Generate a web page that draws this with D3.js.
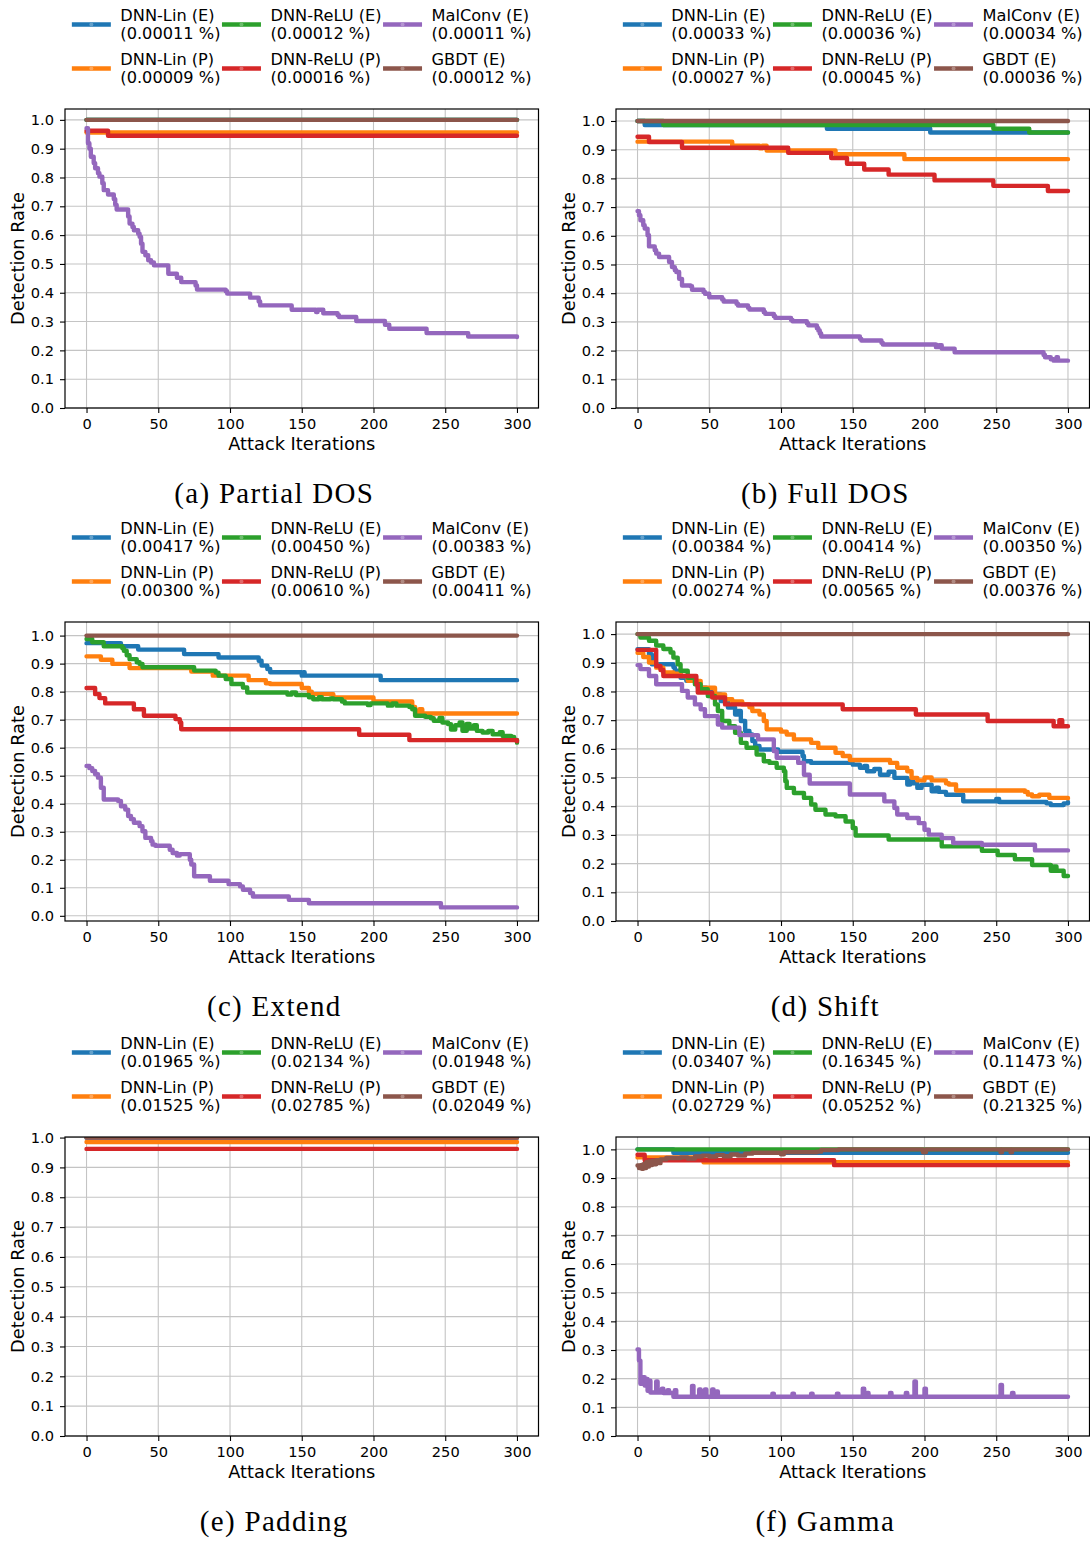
<!DOCTYPE html>
<html><head><meta charset="utf-8">
<script src="https://cdn.jsdelivr.net/npm/d3@7"></script>
<style>body{margin:0;background:#fff}</style>
</head><body>
<svg id="chart" width="1090" height="1543" xmlns="http://www.w3.org/2000/svg"></svg>
<script>
// ---------------- DATA ----------------
const seriesNames = ["DNN-Lin (E)", "DNN-Lin (P)", "DNN-ReLU (E)", "DNN-ReLU (P)", "MalConv (E)", "GBDT (E)"];
const xTicks = [0, 50, 100, 150, 200, 250, 300];
const yTicks = [0, 0.1, 0.2, 0.3, 0.4, 0.5, 0.6, 0.7, 0.8, 0.9, 1.0];
const captions = ["(a) Partial DOS", "(b) Full DOS", "(c) Extend", "(d) Shift", "(e) Padding", "(f) Gamma"];

const pctPartialDOS = ["0.00011", "0.00009", "0.00012", "0.00016", "0.00011", "0.00012"];
const pctFullDOS    = ["0.00033", "0.00027", "0.00036", "0.00045", "0.00034", "0.00036"];
const pctExtend     = ["0.00417", "0.00300", "0.00450", "0.00610", "0.00383", "0.00411"];
const pctShift      = ["0.00384", "0.00274", "0.00414", "0.00565", "0.00350", "0.00376"];
const pctPadding    = ["0.01965", "0.01525", "0.02134", "0.02785", "0.01948", "0.02049"];
const pctGamma      = ["0.03407", "0.02729", "0.16345", "0.05252", "0.11473", "0.21325"];

// Step breakpoints [iteration, detection rate]
// (a) Partial DOS
const partialDOS_linE  = [[0,1.0],[300,1.0]];
const partialDOS_linP  = [[0,0.956],[300,0.956]];
const partialDOS_reluE = [[0,1.0],[300,1.0]];
const partialDOS_reluP = [[0,0.962],[15,0.945],[300,0.945]];
const partialDOS_malconv = [[0,0.971],[1,0.919],[2,0.90],[3,0.872],[5,0.85],[6,0.832],[8,0.815],[9,0.803],[11,0.78],[12,0.756],[15,0.741],[19,0.725],[20,0.705],[21,0.689],[29,0.665],[30,0.640],[32,0.628],[33,0.617],[36,0.605],[37,0.594],[38,0.57],[39,0.542],[41,0.53],[43,0.513],[45,0.505],[47,0.495],[57,0.466],[63,0.452],[66,0.437],[76,0.425],[77,0.411],[97,0.405],[98,0.397],[114,0.383],[120,0.370],[121,0.356],[143,0.341],[160,0.333],[161,0.341],[165,0.329],[175,0.322],[176,0.316],[188,0.302],[208,0.289],[211,0.275],[237,0.260],[266,0.248],[300,0.246]];
const partialDOS_gbdt = [[0,1.0],[300,1.0]];

// (b) Full DOS
const fullDOS_linE  = [[0,1.0],[5,0.986],[132,0.973],[204,0.960],[300,0.960]];
const fullDOS_linP  = [[0,0.928],[66,0.914],[85,0.905],[87,0.914],[90,0.897],[138,0.884],[186,0.867],[300,0.867]];
const fullDOS_reluE = [[0,1.0],[18,0.986],[248,0.973],[273,0.960],[300,0.960]];
const fullDOS_reluP = [[0,0.945],[8,0.927],[31,0.907],[105,0.889],[135,0.871],[146,0.851],[158,0.831],[175,0.813],[207,0.793],[248,0.774],[286,0.756],[300,0.756]];
const fullDOS_malconv = [[0,0.686],[1,0.672],[2,0.654],[4,0.637],[5,0.625],[7,0.602],[8,0.563],[12,0.55],[13,0.538],[15,0.526],[22,0.509],[24,0.491],[26,0.48],[27,0.474],[29,0.45],[31,0.427],[37,0.424],[38,0.412],[46,0.404],[47,0.398],[50,0.386],[59,0.378],[60,0.371],[69,0.363],[70,0.357],[77,0.349],[78,0.343],[88,0.334],[89,0.328],[95,0.32],[96,0.314],[107,0.307],[108,0.302],[118,0.295],[119,0.288],[125,0.278],[126,0.27],[127,0.26],[128,0.249],[155,0.241],[156,0.235],[170,0.227],[171,0.221],[208,0.212],[210,0.219],[212,0.207],[221,0.194],[283,0.185],[284,0.177],[288,0.170],[290,0.165],[292,0.177],[293,0.165],[300,0.165]];
const fullDOS_gbdt = [[0,1.0],[300,1.0]];

// (c) Extend
const extend_linE = [[0,0.973],[24,0.962],[36,0.950],[68,0.934],[92,0.922],[120,0.91],[122,0.893],[126,0.881],[128,0.869],[150,0.857],[151,0.869],[152,0.857],[205,0.841],[300,0.841]];
const extend_linP = [[0,0.926],[10,0.914],[18,0.899],[30,0.884],[73,0.872],[88,0.857],[113,0.841],[125,0.83],[128,0.827],[150,0.813],[155,0.80],[157,0.791],[172,0.779],[200,0.765],[227,0.745],[229,0.722],[232,0.737],[234,0.722],[300,0.722]];
const extend_reluE = [[0,0.988],[4,0.976],[12,0.962],[25,0.955],[26,0.946],[28,0.93],[30,0.916],[35,0.905],[37,0.899],[39,0.887],[75,0.875],[90,0.868],[92,0.857],[97,0.845],[101,0.827],[109,0.815],[112,0.797],[140,0.79],[143,0.797],[146,0.788],[155,0.78],[158,0.773],[162,0.78],[164,0.773],[170,0.776],[172,0.773],[178,0.765],[180,0.758],[196,0.752],[198,0.758],[210,0.75],[213,0.758],[216,0.75],[225,0.745],[227,0.737],[229,0.714],[236,0.71],[240,0.705],[242,0.696],[246,0.706],[248,0.69],[252,0.684],[254,0.665],[257,0.68],[260,0.69],[262,0.66],[265,0.685],[267,0.668],[270,0.68],[272,0.66],[276,0.654],[280,0.66],[283,0.648],[288,0.655],[290,0.642],[296,0.638],[298,0.628],[300,0.618]];
const extend_reluP = [[0,0.813],[6,0.791],[9,0.777],[13,0.758],[33,0.737],[40,0.714],[62,0.702],[65,0.69],[66,0.666],[190,0.646],[225,0.627],[300,0.623]];
const extend_malconv = [[0,0.535],[2,0.527],[4,0.517],[6,0.505],[8,0.493],[10,0.457],[12,0.415],[22,0.41],[24,0.391],[27,0.379],[29,0.356],[31,0.345],[33,0.332],[37,0.320],[39,0.302],[41,0.278],[45,0.266],[46,0.254],[48,0.25],[58,0.236],[60,0.224],[63,0.215],[65,0.22],[72,0.200],[73,0.183],[75,0.141],[86,0.125],[99,0.113],[107,0.105],[109,0.093],[114,0.081],[116,0.069],[141,0.057],[155,0.045],[247,0.030],[300,0.030]];
const extend_gbdt = [[0,1.0],[300,1.0]];

// (d) Shift
const shift_linE = [[0,0.947],[8,0.930],[10,0.895],[25,0.885],[26,0.872],[30,0.848],[34,0.837],[42,0.813],[48,0.80],[52,0.790],[58,0.767],[63,0.744],[68,0.720],[70,0.732],[72,0.697],[75,0.662],[78,0.65],[80,0.627],[82,0.610],[85,0.598],[98,0.590],[115,0.575],[116,0.557],[121,0.551],[150,0.545],[155,0.534],[158,0.54],[160,0.522],[165,0.53],[169,0.51],[175,0.52],[179,0.499],[188,0.476],[190,0.49],[192,0.48],[195,0.464],[198,0.475],[205,0.452],[208,0.465],[210,0.45],[215,0.44],[227,0.417],[250,0.425],[252,0.415],[285,0.41],[288,0.404],[297,0.41],[300,0.415]];
const shift_linP = [[0,0.935],[4,0.92],[8,0.901],[13,0.883],[18,0.866],[25,0.862],[30,0.854],[35,0.837],[44,0.813],[54,0.790],[61,0.773],[66,0.765],[73,0.755],[78,0.745],[80,0.732],[85,0.72],[88,0.697],[90,0.668],[100,0.660],[104,0.650],[109,0.633],[121,0.621],[126,0.604],[138,0.586],[143,0.575],[148,0.561],[176,0.551],[181,0.534],[188,0.522],[191,0.499],[195,0.49],[200,0.5],[205,0.49],[215,0.48],[217,0.476],[222,0.455],[270,0.45],[272,0.441],[275,0.435],[280,0.44],[287,0.429],[300,0.428]];
const shift_reluE = [[0,1.0],[2,0.988],[8,0.977],[13,0.96],[18,0.948],[23,0.936],[25,0.918],[28,0.895],[30,0.872],[35,0.848],[40,0.825],[44,0.808],[49,0.784],[54,0.755],[56,0.732],[59,0.697],[64,0.679],[68,0.656],[72,0.621],[76,0.604],[83,0.580],[88,0.557],[92,0.551],[97,0.534],[102,0.522],[103,0.487],[104,0.464],[109,0.446],[116,0.429],[121,0.406],[124,0.388],[131,0.371],[138,0.365],[145,0.347],[150,0.324],[152,0.298],[175,0.284],[212,0.26],[240,0.245],[251,0.23],[263,0.215],[275,0.195],[288,0.175],[290,0.19],[292,0.175],[297,0.157],[300,0.157]];
const shift_reluP = [[0,0.945],[13,0.889],[16,0.875],[18,0.854],[41,0.825],[42,0.796],[52,0.779],[61,0.755],[143,0.738],[194,0.720],[244,0.697],[290,0.679],[294,0.700],[296,0.679],[300,0.679]];
const shift_malconv = [[0,0.892],[2,0.878],[8,0.854],[13,0.825],[31,0.802],[35,0.779],[40,0.755],[44,0.738],[47,0.714],[56,0.685],[59,0.674],[71,0.648],[84,0.633],[95,0.592],[97,0.569],[112,0.551],[116,0.510],[120,0.479],[148,0.441],[172,0.417],[179,0.394],[181,0.371],[188,0.359],[196,0.341],[200,0.318],[203,0.301],[212,0.289],[220,0.272],[240,0.266],[277,0.246],[300,0.246]];
const shift_gbdt = [[0,1.0],[300,1.0]];

// (e) Padding
const padding_linE  = [[0,1.0],[300,1.0]];
const padding_linP  = [[0,0.985],[300,0.985]];
const padding_reluE = [[0,1.0],[300,1.0]];
const padding_reluP = [[0,0.962],[300,0.962]];
const padding_malconv = [[0,1.0],[300,1.0]];
const padding_gbdt  = [[0,1.0],[300,1.0]];

// (f) Gamma
const gamma_linE  = [[0,1.0],[25,0.988],[300,0.988]];
const gamma_linP  = [[0,0.972],[46,0.955],[300,0.955]];
const gamma_reluE = [[0,1.0],[300,1.0]];
const gamma_reluP = [[0,0.981],[5,0.962],[137,0.945],[300,0.945]];
const gamma_malconv = [[0,0.302],[1,0.263],[2,0.182],[3,0.205],[5,0.176],[6,0.199],[7,0.158],[8,0.193],[9,0.152],[13,0.19],[14,0.152],[17,0.165],[18,0.15],[21,0.16],[22,0.15],[25,0.137],[26,0.16],[27,0.137],[38,0.175],[39,0.137],[43,0.162],[44,0.137],[47,0.162],[48,0.137],[52,0.162],[53,0.137],[55,0.155],[56,0.137],[94,0.148],[95,0.137],[108,0.148],[109,0.137],[121,0.148],[122,0.137],[139,0.148],[140,0.137],[157,0.165],[158,0.137],[160,0.15],[161,0.137],[176,0.15],[177,0.137],[187,0.15],[188,0.137],[193,0.19],[194,0.137],[200,0.165],[201,0.137],[253,0.178],[254,0.137],[261,0.15],[262,0.137],[300,0.137]];
const gamma_gbdt = [[0,0.944],[1,0.935],[2,0.945],[3,0.932],[4,0.948],[5,0.935],[6,0.955],[7,0.94],[8,0.958],[9,0.945],[10,0.96],[12,0.948],[13,0.962],[15,0.952],[16,0.965],[20,0.97],[30,0.972],[35,0.968],[40,0.975],[45,0.978],[50,0.975],[55,0.98],[60,0.976],[65,0.982],[70,0.978],[75,0.985],[80,0.988],[100,0.983],[102,0.99],[125,0.992],[128,0.998],[140,1.0],[199,0.99],[201,1.0],[253,0.99],[254,1.0],[260,0.99],[261,1.0],[300,1.0]];

const panels = [
  {caption: captions[0], pct: pctPartialDOS, series: [partialDOS_linE, partialDOS_linP, partialDOS_reluE, partialDOS_reluP, partialDOS_malconv, partialDOS_gbdt]},
  {caption: captions[1], pct: pctFullDOS, series: [fullDOS_linE, fullDOS_linP, fullDOS_reluE, fullDOS_reluP, fullDOS_malconv, fullDOS_gbdt]},
  {caption: captions[2], pct: pctExtend, series: [extend_linE, extend_linP, extend_reluE, extend_reluP, extend_malconv, extend_gbdt]},
  {caption: captions[3], pct: pctShift, series: [shift_linE, shift_linP, shift_reluE, shift_reluP, shift_malconv, shift_gbdt]},
  {caption: captions[4], pct: pctPadding, series: [padding_linE, padding_linP, padding_reluE, padding_reluP, padding_malconv, padding_gbdt]},
  {caption: captions[5], pct: pctGamma, series: [gamma_linE, gamma_linP, gamma_reluE, gamma_reluP, gamma_malconv, gamma_gbdt]}
];

// ---------------- STYLE / LAYOUT ----------------
const colors = ["#1f77b4", "#ff7f0e", "#2ca02c", "#d62728", "#9467bd", "#8c564b"];
const colLeft = [65, 616];
const rowTop = [109, 622, 1137];
const axW = 473.5, axH = 299;
const sansFont = "DejaVu Sans, sans-serif";

const svg = d3.select("#chart");
svg.append("rect").attr("width", 1090).attr("height", 1543).attr("fill", "#fff");

panels.forEach((p, i) => {
  const left = colLeft[i % 2], top = rowTop[Math.floor(i / 2)];
  const right = left + axW, bottom = top + axH;
  const cx = (left + right) / 2;

  const allY = p.series.flat().map(d => d[1]);
  const ymin = d3.min(allY), ymax = d3.max(allY);
  const lo = Math.min(0, ymin - 0.05 * (ymax - ymin));
  const hi = ymax + 0.05 * (ymax - ymin);

  const x = d3.scaleLinear().domain([-15, 315]).range([left, right]);
  const y = d3.scaleLinear().domain([lo, hi]).range([bottom, top]);

  const g = svg.append("g");
  const clipId = "clip" + i;
  g.append("clipPath").attr("id", clipId).append("rect")
    .attr("x", left).attr("y", top).attr("width", axW).attr("height", axH);

  // grid
  g.append("g").selectAll("line").data(xTicks).join("line")
    .attr("x1", d => x(d)).attr("x2", d => x(d)).attr("y1", top).attr("y2", bottom)
    .attr("stroke", "#c4c4c4").attr("stroke-width", 1.1);
  g.append("g").selectAll("line").data(yTicks.filter(t => t >= lo && t <= hi)).join("line")
    .attr("x1", left).attr("x2", right).attr("y1", d => y(d)).attr("y2", d => y(d))
    .attr("stroke", "#c4c4c4").attr("stroke-width", 1.1);

  // series lines
  const line = d3.line().x(d => x(d[0])).y(d => y(d[1])).curve(d3.curveStepAfter);
  const lg = g.append("g").attr("clip-path", `url(#${clipId})`);
  p.series.forEach((s, k) => {
    lg.append("path").datum(s).attr("d", line)
      .attr("fill", "none").attr("stroke", colors[k]).attr("stroke-width", 4.4)
      .attr("stroke-linejoin", "round").attr("stroke-linecap", "round");
  });

  // axes
  const xa = g.append("g").attr("transform", `translate(0,${bottom})`)
    .call(d3.axisBottom(x).tickValues(xTicks).tickSize(5).tickPadding(5.5).tickFormat(d3.format("d")));
  const ya = g.append("g").attr("transform", `translate(${left},0)`)
    .call(d3.axisLeft(y).tickValues(yTicks.filter(t => t >= lo - 1e-9 && t <= hi + 1e-9)).tickSize(5).tickPadding(6).tickFormat(d3.format(".1f")));
  [xa, ya].forEach(a => {
    a.select(".domain").remove();
    a.selectAll("line").attr("stroke", "#000").attr("stroke-width", 1.1);
    a.selectAll("text").attr("font-family", sansFont).attr("font-size", 14.6).attr("fill", "#000");
  });

  // spines
  g.append("rect").attr("x", left).attr("y", top).attr("width", axW).attr("height", axH)
    .attr("fill", "none").attr("stroke", "#000").attr("stroke-width", 1.2);

  // axis labels
  g.append("text").attr("x", cx).attr("y", bottom + 41.5).attr("text-anchor", "middle")
    .attr("font-family", sansFont).attr("font-size", 17.8).text("Attack Iterations");
  g.append("text").attr("transform", `translate(${left - 41.5},${(top + bottom) / 2}) rotate(-90)`)
    .attr("text-anchor", "middle").attr("font-family", sansFont).attr("font-size", 17.8).text("Detection Rate");

  // caption
  g.append("text").attr("x", cx - 27.5).attr("y", bottom + 95.3).attr("text-anchor", "middle")
    .attr("font-family", "Liberation Serif, serif").attr("font-size", 29).attr("letter-spacing", "1.3px")
    .text(p.caption);

  // legend (3 columns, column-major)
  const lgG = g.append("g");
  const handleLen = 39, handlePad = 9.5, colGap = 1.5;
  const row1 = top - 88.5, lineGap = 18.7, rowGap = 44;
  const fs = 16.2;
  const entries = seriesNames.map((n, k) => ({name: n, pct: `(${p.pct[k]} %)`, k}));
  const tmp = lgG.append("text").attr("font-family", sansFont).attr("font-size", fs);
  const measure = s => { tmp.text(s); return tmp.node().getComputedTextLength(); };
  const colWidths = [0, 1, 2].map(c => {
    const es = entries.slice(c * 2, c * 2 + 2);
    return handleLen + handlePad + d3.max(es, e => Math.max(measure(e.name), measure(e.pct)));
  });
  tmp.remove();
  const total = d3.sum(colWidths) + 2 * colGap;
  let cx0 = cx - total / 2;
  const colX = [];
  colWidths.forEach(w => { colX.push(cx0); cx0 += w + colGap; });
  entries.forEach(e => {
    const c = Math.floor(e.k / 2), r = e.k % 2;
    const bx = colX[c], by = row1 + r * rowGap;
    const hy = by + 4;
    lgG.append("line").attr("x1", bx).attr("x2", bx + handleLen).attr("y1", hy).attr("y2", hy)
      .attr("stroke", colors[e.k]).attr("stroke-width", 4.4);
    lgG.append("circle").attr("cx", bx + handleLen / 2).attr("cy", hy).attr("r", 2)
      .attr("fill", d3.interpolateRgb(colors[e.k], "#fff")(0.3));
    const t = lgG.append("text").attr("font-family", sansFont).attr("font-size", fs).attr("fill", "#000");
    t.append("tspan").attr("x", bx + handleLen + handlePad).attr("y", by).text(e.name);
    t.append("tspan").attr("x", bx + handleLen + handlePad).attr("y", by + lineGap).text(e.pct);
  });
});
</script>
</body></html>
